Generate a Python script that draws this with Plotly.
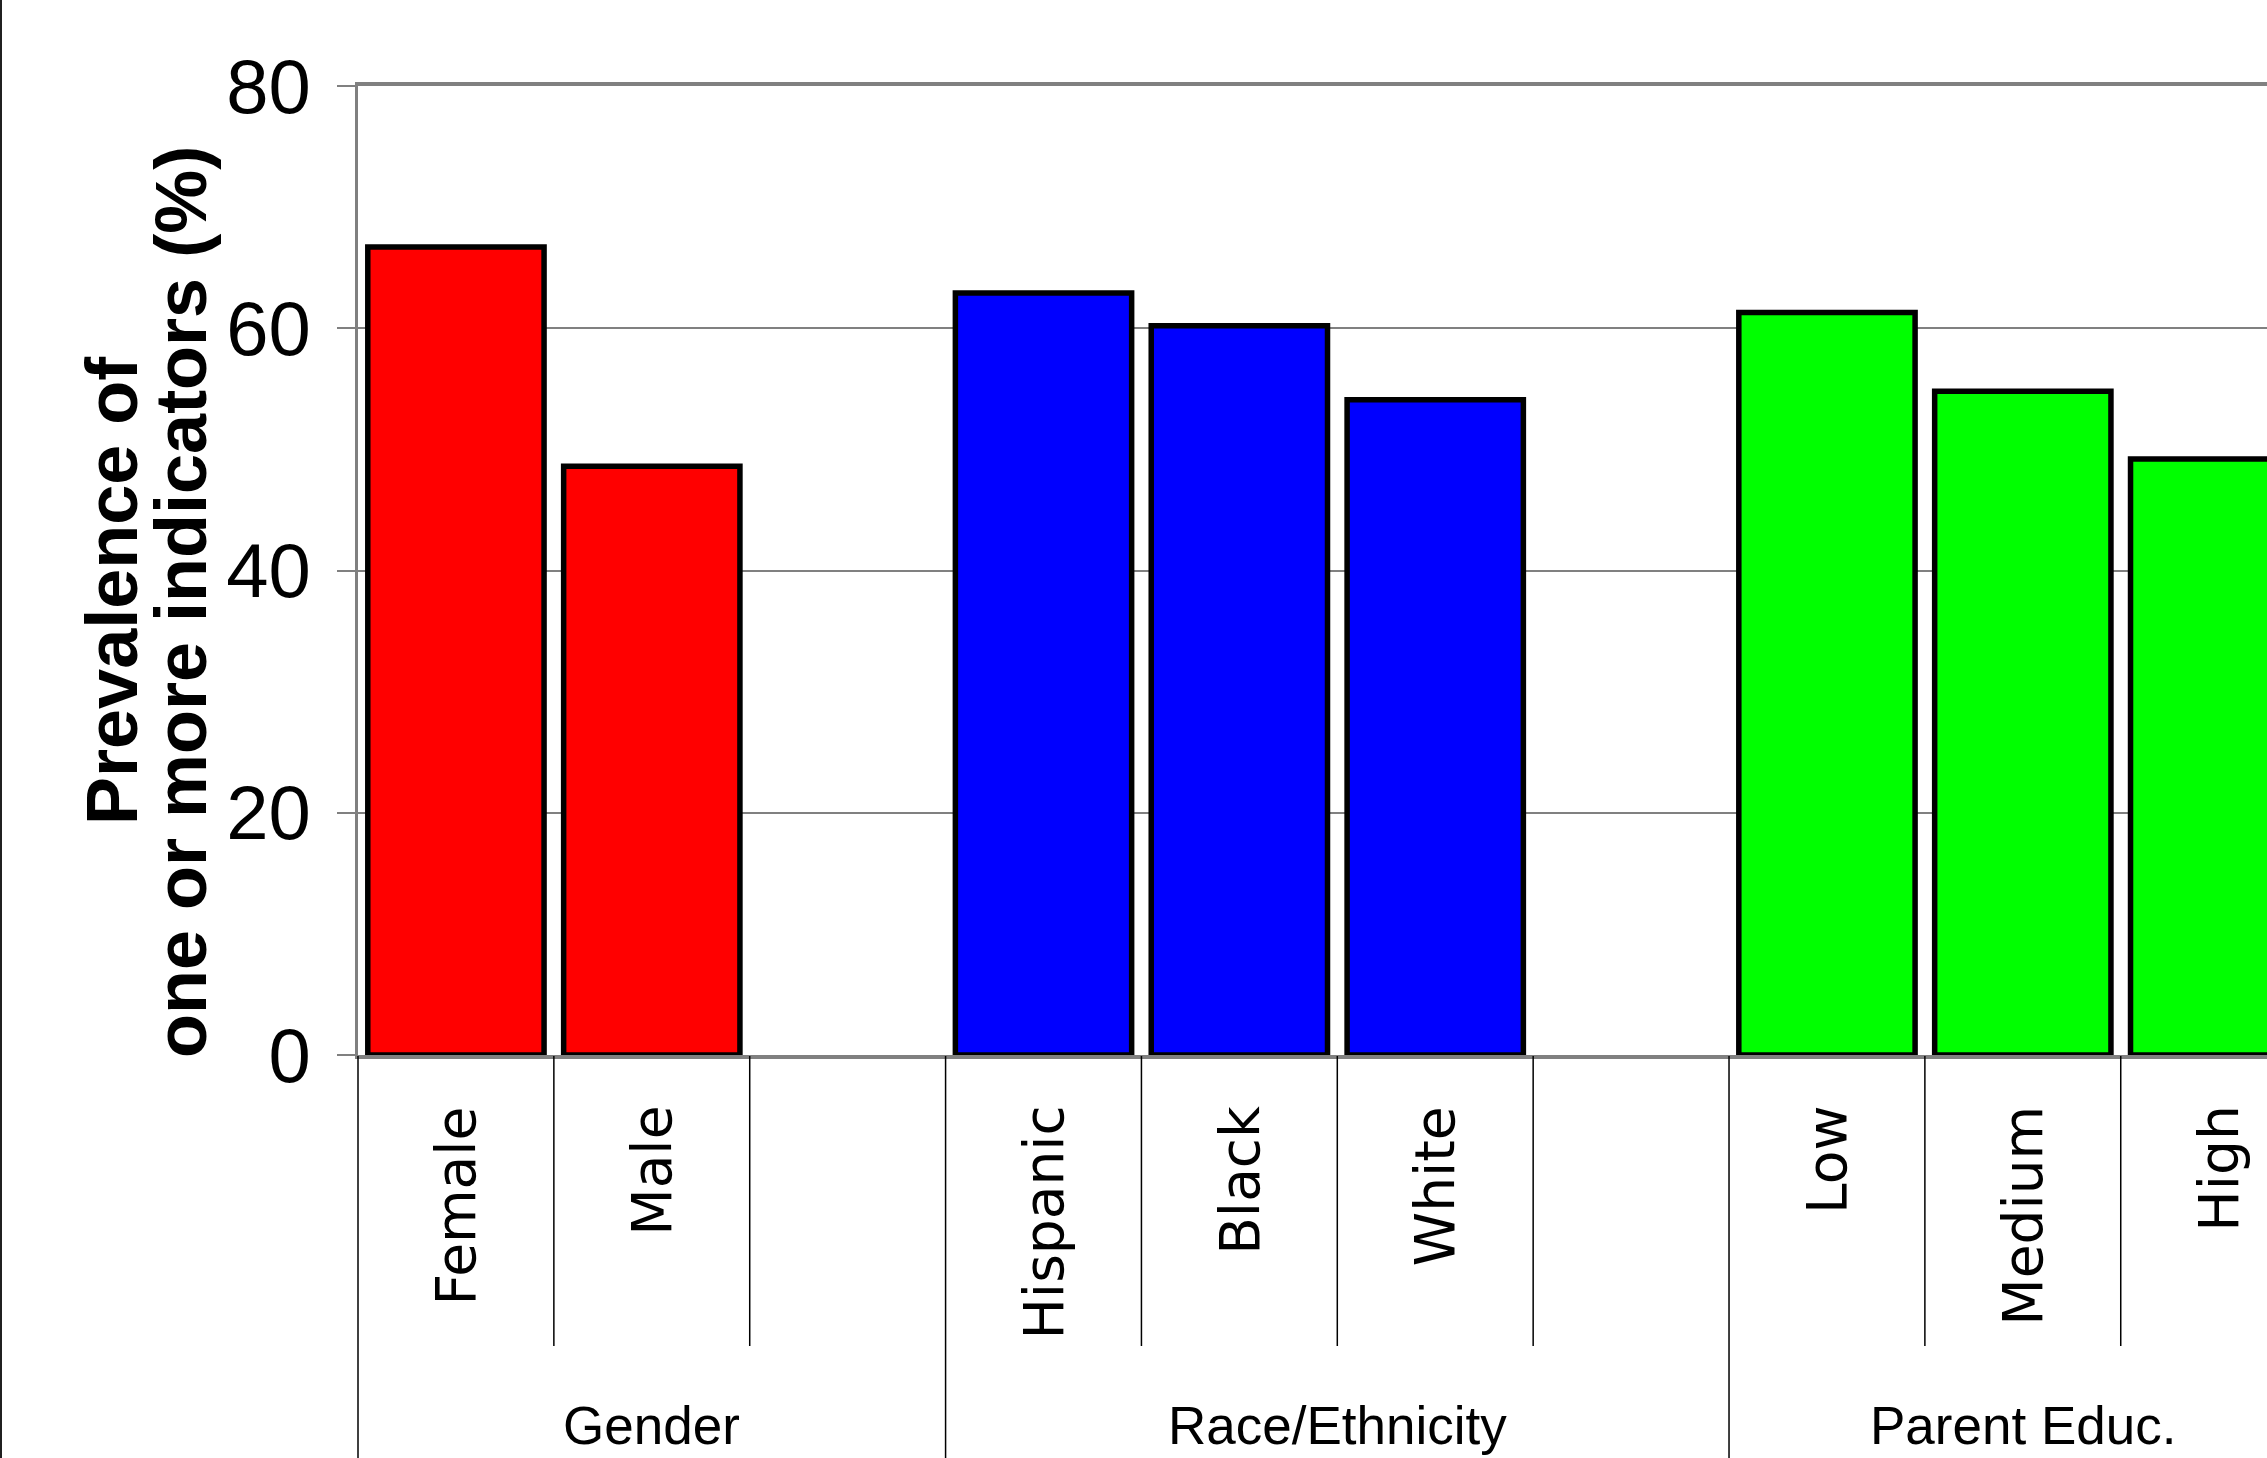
import plotly.graph_objects as go

# ---- data -------------------------------------------------------------
groups = ["Gender", "Race/Ethnicity", "Parent Educ."]

gender_cats = ["Female", "Male", ""]
gender_vals = [66.7, 48.6, None]

race_cats = ["Hispanic", "Black", "White", ""]
race_vals = [62.9, 60.2, 54.1, None]

educ_cats = ["Low", "Medium", "High"]
educ_vals = [61.3, 54.8, 49.2]

y_ticks = [0, 20, 40, 60, 80]
y_title_lines = ["Prevalence of", "one or more indicators (%)"]

group_colors = ["#FF0000", "#0000FF", "#00FF00"]

# ---- page geometry ----------------------------------------------------
W, H = 2267, 1458
ML, MT, MB = 358, 86, 403
PLOT_W = W - ML
PLOT_H = H - MT - MB
SLOT_PX = 195.86                      # width of one category slot
X_LO = -0.5
X_HI = X_LO + PLOT_W / SLOT_PX        # last group runs past the right edge


def paper_y(row):
    """pixel row -> paper y"""
    return (H - MB - row) / PLOT_H


def paper_x(col):
    """pixel column -> paper x"""
    return (col - ML) / PLOT_W


def slot_to_paper(x):
    return (x - X_LO) / (X_HI - X_LO)


SANS = "Liberation Sans, Arial, sans-serif"
PIXEL = "DejaVu Sans, Verdana, sans-serif"

fig = go.Figure()
shapes = []
annotations = []

group_data = [(gender_cats, gender_vals), (race_cats, race_vals), (educ_cats, educ_vals)]
pos = 0
for gname, (cats, vals), color in zip(groups, group_data, group_colors):
    xs = list(range(pos, pos + len(cats)))
    fig.add_trace(go.Bar(
        x=xs, y=vals, width=0.9, name=gname, showlegend=False,
        marker=dict(color=color, line=dict(color="black", width=5.5)),
    ))
    # category names, rotated, hanging just below the axis
    for x, c in zip(xs, cats):
        if c:
            annotations.append(dict(
                x=x, xref="x", y=paper_y(1104), yref="paper", text=c,
                textangle=-90, showarrow=False, xanchor="center", yanchor="top",
                font=dict(family=PIXEL, size=55, color="black"),
            ))
    # group boundary (full height) and inner category boundaries (short)
    shapes.append(dict(type="line", xref="paper", yref="paper",
                       x0=slot_to_paper(pos - 0.5), x1=slot_to_paper(pos - 0.5),
                       y0=paper_y(1056), y1=paper_y(H + 5),
                       line=dict(color="#000000", width=1.5)))
    for k in range(1, len(cats)):
        xb = slot_to_paper(pos + k - 0.5)
        shapes.append(dict(type="line", xref="paper", yref="paper",
                           x0=xb, x1=xb, y0=paper_y(1056), y1=paper_y(1346),
                           line=dict(color="#000000", width=1.5)))
    # group name along the bottom
    annotations.append(dict(
        x=pos + (len(cats) - 1) / 2, xref="x", y=paper_y(1457), yref="paper",
        text=gname, showarrow=False, xanchor="center", yanchor="bottom",
        font=dict(family=SANS, size=53, color="black"),
    ))
    pos += len(cats)

# two-line rotated y title
for line, col, row in zip(y_title_lines, [112, 181], [591, 602]):
    annotations.append(dict(
        x=paper_x(col), xref="paper", y=paper_y(row), yref="paper", text=line,
        textangle=-90, showarrow=False, xanchor="center", yanchor="middle",
        font=dict(family=SANS, size=72, color="black", weight="bold"),
    ))

# thin frame line on the left edge of the page
shapes.append(dict(type="line", xref="paper", yref="paper",
                   x0=paper_x(1), x1=paper_x(1), y0=paper_y(0), y1=paper_y(H),
                   line=dict(color="#202020", width=2)))

fig.update_layout(
    width=W, height=H,
    margin=dict(l=ML, r=0, t=MT, b=MB, pad=0),
    paper_bgcolor="white", plot_bgcolor="white",
    shapes=shapes, annotations=annotations,
    xaxis=dict(range=[X_LO, X_HI], showticklabels=False, ticks="",
               showgrid=False, zeroline=False, showline=True, mirror=True,
               linecolor="#808080", linewidth=3.5, fixedrange=True),
    yaxis=dict(range=[0, 80], tickvals=y_ticks, ticks="outside", ticklen=18,
               tickwidth=2, tickcolor="#808080", showgrid=True,
               gridcolor="#808080", gridwidth=2, zeroline=False,
               showline=True, linecolor="#808080", linewidth=3,
               ticklabelstandoff=11,
               tickfont=dict(family=SANS, size=76, color="black"),
               fixedrange=True),
)

fig.write_html("out.html", config={"displayModeBar": False})
